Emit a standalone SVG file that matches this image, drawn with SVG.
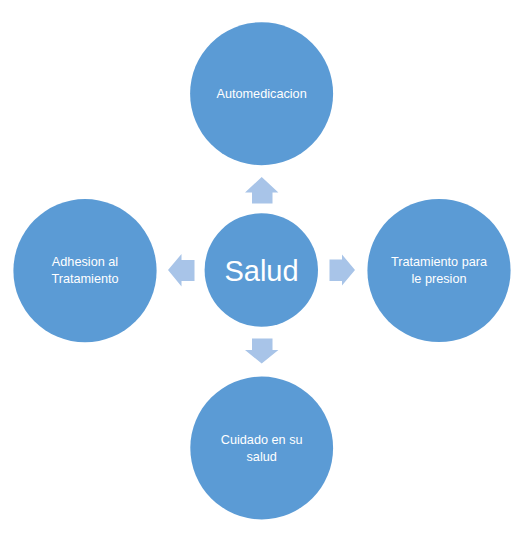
<svg xmlns="http://www.w3.org/2000/svg" width="525" height="537" viewBox="0 0 525 537">
<style>
.node{fill:#5B9BD5;}
.arrow{fill:#A8C4E8;}
.t{fill:#FFFFFF;font-family:"Liberation Sans",Arial,sans-serif;font-size:12.7px;text-anchor:middle;}
.big{fill:#FFFFFF;font-family:"Liberation Sans",Arial,sans-serif;font-size:29px;text-anchor:middle;}
</style>
<rect width="525" height="537" fill="#FFFFFF"/>
<g id="connectors">
<polygon class="arrow" points="252,203.5 252,192.5 245,192.5 261.7,177 278.4,192.5 272.5,192.5 272.5,203.5"/>
<polygon class="arrow" points="194.5,260 181.5,260 181.5,254 168,270 181.5,286.5 181.5,281 194.5,281"/>
<polygon class="arrow" points="329.5,259.5 342,259.5 342,254.5 355,270 342,285.5 342,281 329.5,281"/>
<polygon class="arrow" points="252,338.5 252,350 245,350 261.7,363.5 278.4,350 272.5,350 272.5,338.5"/>
</g>
<g id="node-automedicacion">
<circle class="node" cx="261.6" cy="93.7" r="71.5"/>
<text class="t" x="261.6" y="98.3">Automedicacion</text>
</g>
<g id="node-adhesion">
<circle class="node" cx="85" cy="270.7" r="71.6"/>
<text class="t" x="85" y="266">Adhesion al</text>
<text class="t" x="85" y="282.7">Tratamiento</text>
</g>
<g id="node-salud">
<circle class="node" cx="261.3" cy="270" r="56.7"/>
<text class="big" x="261.5" y="280.7">Salud</text>
</g>
<g id="node-tratamiento">
<circle class="node" cx="439" cy="270.5" r="71.6"/>
<text class="t" x="439" y="266">Tratamiento para</text>
<text class="t" x="439" y="282.7">le presion</text>
</g>
<g id="node-cuidado">
<circle class="node" cx="261.7" cy="448" r="71.4"/>
<text class="t" x="261.7" y="444">Cuidado en su</text>
<text class="t" x="261.7" y="460.5">salud</text>
</g>
</svg>
